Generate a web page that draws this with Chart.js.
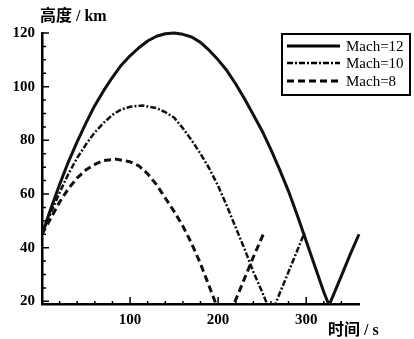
<!DOCTYPE html>
<html>
<head>
<meta charset="utf-8">
<script src="https://cdn.jsdelivr.net/npm/chart.js@4"></script>
<style>
  body { margin: 0; background: #fff; }
  canvas { display: block; }
</style>
</head>
<body>
<canvas id="chart" width="414" height="339"></canvas>
<script>
// values
const seriesNames = ['Mach=12', 'Mach=10', 'Mach=8'];

const mach12Time = [0, 10, 20, 30, 40, 50, 60, 70, 80, 90, 100, 110, 120, 130, 140, 150, 160, 170, 180, 190, 200, 210, 220, 230, 240, 250, 260, 270, 280, 290, 300, 310, 320, 326, 340, 350, 360];
const mach12Alt = [45, 54.5, 63.5, 72, 79.5, 86.5, 93, 98.5, 103.5, 108, 111.5, 114.5, 117, 118.8, 119.7, 120, 119.5, 118.5, 116.5, 113.5, 110, 106, 101, 95.5, 89.5, 83.5, 76.5, 69, 61, 52, 42.5, 33, 23.5, 18.5, 29.5, 37.5, 45];

const mach10Time = [0, 10, 20, 30, 40, 50, 60, 70, 80, 90, 100, 114, 130, 140, 150, 160, 170, 180, 190, 200, 210, 220, 230, 240, 250, 255, 260, 265, 280, 290, 298];
const mach10Alt = [45, 53, 60.5, 67.5, 73.5, 78.5, 83, 86.5, 89.5, 91.5, 92.5, 93, 92, 90.5, 88.5, 84.5, 80, 75, 69.5, 63, 55.5, 47.5, 39.5, 31, 23.5, 19.5, 15.5, 19, 31, 39, 45.5];

const mach8Time = [0, 10, 20, 30, 40, 50, 60, 70, 84, 100, 110, 120, 130, 140, 150, 160, 170, 180, 190, 197, 207, 218, 230, 240, 252];
const mach8Alt = [45, 51, 57, 62, 66, 69, 71, 72.5, 73, 72, 70.5, 67.5, 63.5, 58.5, 53.5, 48, 41.5, 34, 25.5, 19.5, 11.5, 19, 28.5, 36.5, 45.5];

const xTickLabels = [100, 200, 300];
const yTickLabels = [20, 40, 60, 80, 100, 120];

const numFont = "'Liberation Serif', 'Times New Roman', serif";
const cjkFont = "'Liberation Serif', 'Noto Sans CJK SC', serif";

function points(ts, vs) {
  return ts.map((t, i) => ({ x: t, y: vs[i] }));
}

function line(label, ts, vs, width, dash) {
  return {
    label: label,
    data: points(ts, vs),
    borderColor: '#111',
    borderWidth: width,
    borderDash: dash,
    borderJoinStyle: 'round',
    pointRadius: 0,
    fill: false,
    tension: 0,
    clip: { left: 0, top: 6, right: 4, bottom: 0 }
  };
}

// inward ticks, axis titles and the boxed legend
const extras = {
  id: 'extras',
  afterDraw(chart) {
    const ctx = chart.ctx;
    const x = chart.scales.x, y = chart.scales.y;
    const area = chart.chartArea;
    ctx.save();
    ctx.strokeStyle = '#000';
    ctx.lineWidth = 1.5;
    ctx.setLineDash([]);
    ctx.beginPath();
    for (let v = 20; v <= 120; v += 5) {
      const py = y.getPixelForValue(v);
      const len = v % 20 === 0 ? 7 : 4;
      ctx.moveTo(area.left, py);
      ctx.lineTo(area.left + len, py);
    }
    for (let t = 20; t <= 340; t += 20) {
      const px = x.getPixelForValue(t);
      const len = t % 100 === 0 ? 7 : 3;
      ctx.moveTo(px, area.bottom);
      ctx.lineTo(px, area.bottom - len);
    }
    ctx.stroke();

    ctx.fillStyle = '#000';
    ctx.font = 'bold 16px ' + cjkFont;
    ctx.textBaseline = 'middle';
    ctx.textAlign = 'left';
    ctx.fillText('高度 / km', 40, 17);
    ctx.fillText('时间 / s', 328, 331);

    // legend
    ctx.lineWidth = 2;
    ctx.strokeRect(282, 34, 128, 61);
    const rows = [46, 63, 81];
    chart.data.datasets.forEach((ds, i) => {
      ctx.beginPath();
      ctx.lineWidth = ds.borderWidth;
      ctx.setLineDash(ds.borderDash || []);
      ctx.moveTo(287, rows[i]);
      ctx.lineTo(340, rows[i]);
      ctx.stroke();
      ctx.setLineDash([]);
      ctx.font = '15px ' + numFont;
      ctx.fillText(ds.label, 346, rows[i] + 1);
    });
    ctx.restore();
  }
};

new Chart(document.getElementById('chart'), {
  type: 'line',
  data: {
    datasets: [
      line(seriesNames[0], mach12Time, mach12Alt, 3, []),
      line(seriesNames[1], mach10Time, mach10Alt, 2.5, [6, 2, 2, 2]),
      line(seriesNames[2], mach8Time, mach8Alt, 3, [7, 4])
    ]
  },
  options: {
    responsive: false,
    animation: false,
    layout: { padding: { top: 33, right: 55, left: 0, bottom: 0 } },
    plugins: { legend: { display: false }, tooltip: { enabled: false } },
    scales: {
      x: {
        type: 'linear',
        min: 0,
        max: 360,
        afterFit(scale) { scale.height = 35; },
        border: { display: true, color: '#000', width: 2.5 },
        grid: { display: false, drawTicks: false },
        ticks: {
          stepSize: 100,
          includeBounds: false,
          padding: 7,
          color: '#000',
          font: { family: numFont, size: 15, weight: 'bold' },
          maxRotation: 0,
          callback: v => xTickLabels.includes(v) ? String(v) : ''
        }
      },
      y: {
        min: 19,
        max: 120,
        afterFit(scale) { scale.width = 42; },
        border: { display: true, color: '#000', width: 2.5 },
        grid: { display: false, drawTicks: false },
        ticks: {
          stepSize: 20,
          includeBounds: false,
          padding: 7,
          color: '#000',
          font: { family: numFont, size: 15, weight: 'bold' },
          callback: v => yTickLabels.includes(v) ? String(v) : ''
        }
      }
    }
  },
  plugins: [extras]
});
</script>
</body>
</html>
